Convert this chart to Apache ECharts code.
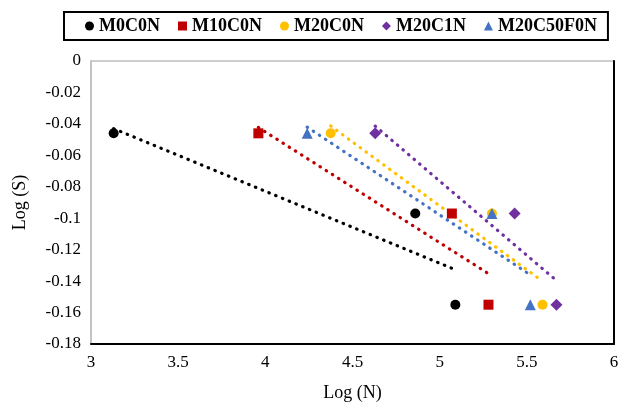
<!DOCTYPE html>
<html>
<head>
<meta charset="utf-8">
<script src="https://cdn.jsdelivr.net/npm/echarts@6/dist/echarts.min.js"></script>
<style>
html,body{margin:0;padding:0;background:#fff;}
#chart{width:620px;height:402px;}
</style>
</head>
<body>
<div id="chart"></div>
<script>
// Data
const seriesNames = ['M0C0N', 'M10C0N', 'M20C0N', 'M20C1N', 'M20C50F0N'];
const logS = [-0.046, -0.097, -0.155];
const logN_M0C0N = [3.13, 4.86, 5.09];
const logN_M10C0N = [3.96, 5.07, 5.28];
const logN_M20C0N = [4.375, 5.30, 5.59];
const logN_M20C1N = [4.63, 5.43, 5.67];
const logN_M20C50F0N = [4.24, 5.30, 5.52];
const xTicks = [3, 3.5, 4, 4.5, 5, 5.5, 6];
const yTicks = [0, -0.02, -0.04, -0.06, -0.08, -0.1, -0.12, -0.14, -0.16, -0.18];

const xs = [logN_M0C0N, logN_M10C0N, logN_M20C0N, logN_M20C1N, logN_M20C50F0N];
const colors = ['#000000', '#C00000', '#FFC000', '#7030A0', '#4472C4'];
const symbols = ['circle', 'rect', 'circle', 'diamond', 'triangle'];
const FONT = '"Liberation Serif", "Times New Roman", serif';

// Linear least-squares trendline between min and max x (as in the source's linear trendlines)
function trend(xv, yv) {
  const n = xv.length;
  const mx = xv.reduce((a, b) => a + b, 0) / n;
  const my = yv.reduce((a, b) => a + b, 0) / n;
  let sxy = 0, sxx = 0;
  for (let i = 0; i < n; i++) { sxy += (xv[i] - mx) * (yv[i] - my); sxx += (xv[i] - mx) ** 2; }
  const b = sxy / sxx, a = my - b * mx;
  const x0 = Math.min(...xv), x1 = Math.max(...xv);
  return [[x0, a + b * x0], [x1, a + b * x1]];
}

const series = [];
xs.forEach((xv, i) => {
  series.push({
    type: 'line',
    name: seriesNames[i] + ' trend',
    data: trend(xv, logS),
    showSymbol: false,
    symbol: 'none',
    silent: true,
    z: 2,
    lineStyle: { color: colors[i], width: 3.2, type: [0.5, 6.8], cap: 'round' }
  });
});
xs.forEach((xv, i) => {
  series.push({
    type: 'scatter',
    name: seriesNames[i],
    data: xv.map((x, j) => [x, logS[j]]),
    symbol: symbols[i],
    symbolSize: symbols[i] === 'diamond' ? 12 : (symbols[i] === 'triangle' ? 11 : 10),
    itemStyle: { color: colors[i], opacity: 1 },
    z: 5
  });
});

const chart = echarts.init(document.getElementById('chart'), null, { renderer: 'canvas' });
chart.setOption({
  animation: false,
  backgroundColor: '#fff',
  legend: {
    data: seriesNames,
    left: 64,
    top: 12,
    orient: 'horizontal',
    itemWidth: 9,
    itemHeight: 9,
    itemGap: 18,
    padding: [5, 11, 5, 21],
    borderColor: '#000',
    borderWidth: 2,
    textStyle: { fontFamily: FONT, fontWeight: 'bold', fontSize: 18, color: '#000' }
  },
  grid: {
    left: 91, right: 6, top: 61, bottom: 58,
    containLabel: false, outerBoundsMode: 'none',
    show: true, borderColor: '#BFBFBF', borderWidth: 1.5, backgroundColor: 'transparent'
  },
  xAxis: [{
    type: 'value', min: 3, max: 6, interval: 0.5,
    name: 'Log (N)', nameLocation: 'middle', nameGap: 40,
    nameTextStyle: { fontFamily: FONT, fontSize: 18, color: '#000' },
    axisLine: { show: true, onZero: false, lineStyle: { color: '#000', width: 2 } },
    axisTick: { show: false },
    splitLine: { show: false },
    axisLabel: { fontFamily: FONT, fontSize: 17, color: '#000', margin: 10,
      formatter: v => { const t = xTicks.find(k => Math.abs(k - v) < 1e-9); return t === undefined ? '' : String(t); } }
  }],
  yAxis: [{
    type: 'value', min: -0.18, max: 0, interval: 0.02,
    name: 'Log (S)', nameLocation: 'middle', nameGap: 62, nameRotate: 90,
    nameTextStyle: { fontFamily: FONT, fontSize: 18, color: '#000' },
    axisLine: { show: true, onZero: false, lineStyle: { color: '#BFBFBF', width: 1.5 } },
    axisTick: { show: false },
    splitLine: { show: false },
    axisLabel: { fontFamily: FONT, fontSize: 17, color: '#000', margin: 10,
      formatter: v => { const t = yTicks.find(k => Math.abs(k - v) < 1e-9); return t === undefined ? '' : String(t); } }
  }, {
    type: 'value', min: -0.18, max: 0, interval: 0.02, position: 'right',
    axisLine: { show: true, onZero: false, lineStyle: { color: '#000', width: 2 } },
    axisTick: { show: false }, axisLabel: { show: false }, splitLine: { show: false }
  }],
  series: series
});
</script>
</body>
</html>
